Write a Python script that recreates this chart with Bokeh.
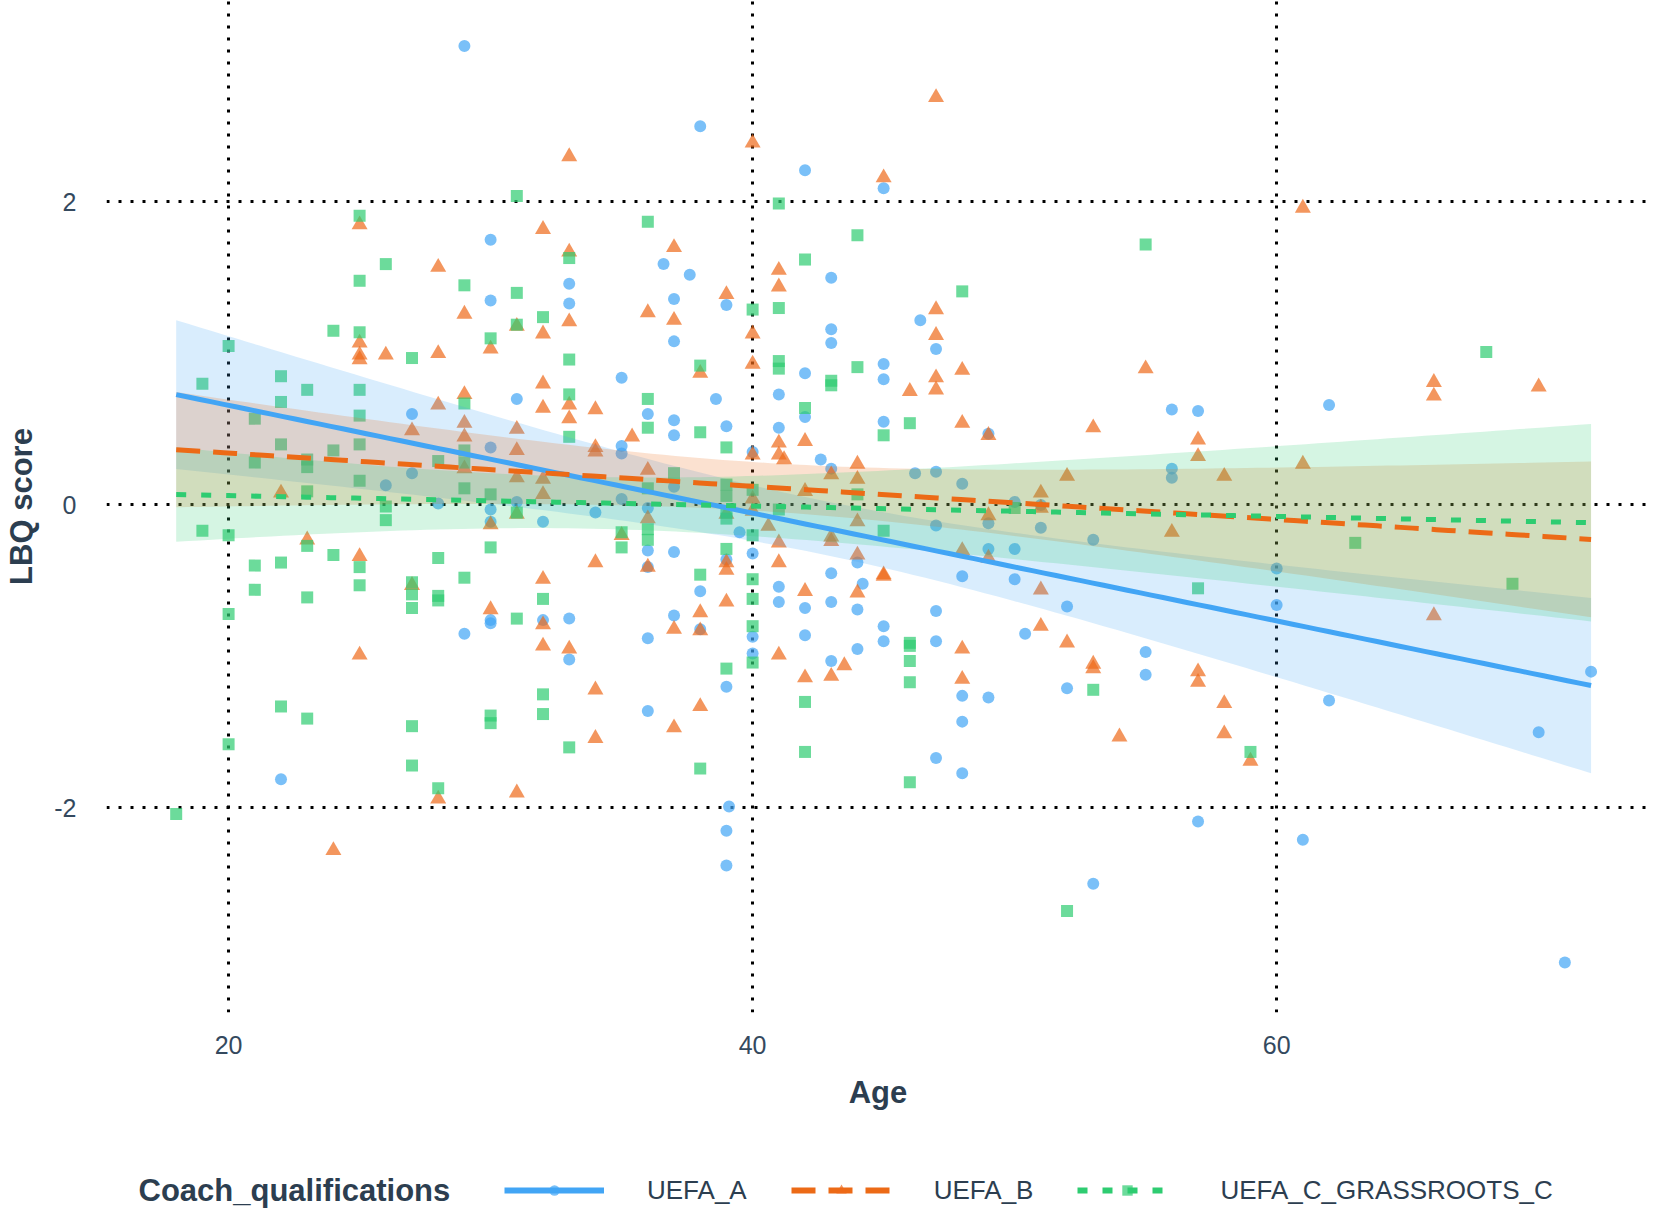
import numpy as np
from bokeh.plotting import figure
from bokeh.layouts import column
from bokeh.models import Range1d, FixedTicker, Legend, LegendItem, Label
from bokeh.embed import file_html
from bokeh.resources import INLINE

# ---------------- data ----------------
group_names = ["UEFA_A", "UEFA_B", "UEFA_C_GRASSROOTS_C"]
legend_title = "Coach_qualifications"

a_age = [29, 30, 30, 27, 30, 27, 26, 28, 30, 30, 30, 30, 29, 22,
         38, 42, 36.6, 37.6, 33, 37, 33, 39, 37, 42, 35, 41, 31, 38.6, 42, 36, 37, 39, 41, 37, 35, 40, 35, 42.6,
         37, 31, 35, 32, 34, 36, 39.5, 36, 37, 40, 39, 36, 41, 38, 41, 42, 37, 32, 33, 38, 40, 42, 36, 33, 40,
         39, 36, 39.1, 39, 39,
         45, 43, 46.4, 43, 43, 47, 45, 45, 56, 45, 49, 43, 46.2, 47, 48, 56, 56,
         50, 51, 49, 47, 51, 53, 50, 49, 44, 43, 48, 50, 44.2, 43, 52, 44, 47, 45, 50.4, 45, 47, 44, 55, 43,
         55, 52, 48, 49, 48, 47, 48, 53,
         62, 57, 60, 60, 72, 62, 70, 57, 61, 71]
a_lbq = [3.03, 1.75, 1.35, 0.60, 0.38, 0.21, 0.13, 0.01, -0.03, -0.11, -0.76, -0.78, -0.85, -1.81,
         2.50, 2.21, 1.59, 1.52, 1.46, 1.36, 1.33, 1.32, 1.08, 0.87, 0.84, 0.73, 0.70, 0.70, 0.58, 0.60, 0.56, 0.52, 0.51, 0.46, 0.39, 0.35, 0.34, 0.30,
         0.12, 0.02, 0.04, -0.11, -0.05, -0.02, -0.18, -0.30, -0.31, -0.32, -0.36, -0.41, -0.54, -0.57, -0.64, -0.68, -0.73, -0.76, -0.75, -0.82, -0.87, -0.86, -0.88, -1.02, -0.98,
         -1.20, -1.36, -1.99, -2.15, -2.38,
         2.09, 1.50, 1.22, 1.16, 1.07, 1.03, 0.93, 0.83, 0.63, 0.55, 0.47, 0.24, 0.21, 0.22, 0.14, 0.24, 0.18,
         0.02, 0.00, -0.12, -0.135, -0.15, -0.23, -0.29, -0.29, -0.38, -0.45, -0.47, -0.49, -0.52, -0.64, -0.67, -0.69, -0.70, -0.80, -0.85, -0.90, -0.90, -0.95, -0.97, -1.03,
         -1.12, -1.21, -1.26, -1.27, -1.43, -1.67, -1.77, -2.50,
         0.66, 0.62, -0.42, -0.66, -1.10, -1.29, -1.50, -2.09, -2.21, -3.02]

b_age = [25, 28, 29, 25, 30, 25, 25, 26, 28, 29, 28, 27, 29, 29, 29, 22, 30, 23, 25, 27, 30, 25, 28, 24,
         40, 33, 32, 37, 33, 41, 41, 39, 36, 33, 37, 31, 32, 40, 40, 38, 32, 33, 32, 34, 33, 31, 35.4, 41, 42,
         34, 34, 31, 40, 41, 41.2, 36, 31, 32,
         32, 40, 42, 31, 36, 39, 40, 40.6, 35, 41, 39, 39, 34, 36, 41, 32, 42, 39, 38, 32, 37, 38, 32, 33, 41,
         42, 34, 38, 37, 34, 31,
         47, 45, 47, 47, 48, 55, 47, 46, 47, 48, 49, 53, 44, 43, 44, 52,
         51, 51, 49, 44, 56, 43, 43, 48, 44, 49, 45, 45, 51, 44, 51, 52, 48, 43.5, 53, 53, 43, 48, 54,
         61, 66, 66, 70, 57, 57, 58, 61, 66, 57, 57, 58, 58, 59]
b_lbq = [1.85, 1.57, 1.26, 1.07, 1.03, 0.99, 0.96, 0.99, 1.00, 0.73, 0.66, 0.49, 0.54, 0.45, 0.24, 0.08, -0.13, -0.23, -0.34, -0.53, -0.69, -0.99, -1.94, -2.28,
         2.39, 2.30, 1.82, 1.70, 1.67, 1.55, 1.44, 1.39, 1.27, 1.21, 1.22, 1.18, 1.13, 1.13, 0.93, 0.87, 0.80, 0.66, 0.64, 0.63, 0.57, 0.50, 0.45, 0.41, 0.42,
         0.38, 0.35, 0.36, 0.33, 0.33, 0.30, 0.23, 0.18, 0.17,
         0.07, 0.04, 0.09, -0.06, -0.09, -0.06, -0.04, -0.14, -0.20, -0.25, -0.38, -0.43, -0.38, -0.41, -0.38, -0.49, -0.57, -0.64, -0.71, -0.79, -0.82, -0.83, -0.93, -0.95, -0.99,
         -1.14, -1.22, -1.33, -1.47, -1.54, -1.90,
         2.69, 2.16, 1.29, 1.12, 0.89, 0.90, 0.84, 0.75, 0.76, 0.54, 0.46, 0.51, 0.27, 0.20, 0.17, 0.19,
         0.08, -0.02, -0.07, -0.11, -0.18, -0.21, -0.24, -0.30, -0.33, -0.35, -0.46, -0.47, -0.56, -0.58, -0.80, -0.91, -0.95, -1.06, -1.05, -1.08, -1.13, -1.15, -1.53,
         1.96, 0.81, 0.72, 0.78, 0.43, 0.32, 0.19, 0.27, -0.73, -1.10, -1.17, -1.31, -1.51, -1.69]

c_age = [25, 26, 25, 29, 24, 25, 30, 27, 20, 19, 22, 23, 25, 22, 29, 21, 25, 22, 24, 25, 29, 21, 23, 23, 28, 29, 25, 23, 29, 30,
         26, 26, 19, 20, 23, 24, 25, 21, 22, 30, 28, 29, 25, 21, 23, 27, 27, 27, 28, 28, 20, 22, 23, 27, 30, 30, 20, 27, 28, 18,
         31, 41, 36, 33, 42, 31, 40, 41, 32, 31, 33, 41, 41, 38, 33, 36, 42, 36, 38, 33, 39, 37,
         36, 39, 39, 40, 31, 36, 36, 39, 39, 40, 41, 35, 35, 39, 38, 40, 32, 40, 31, 40, 40, 39, 32, 42, 32, 33, 42, 38,
         44, 55, 48, 44, 43, 43, 46, 45, 44, 50, 45, 46, 46, 46, 46, 53, 46, 52, 68, 63, 69, 57, 59]
c_lbq = [1.91, 1.59, 1.48, 1.45, 1.15, 1.14, 1.10, 0.97, 1.05, 0.80, 0.85, 0.76, 0.76, 0.68, 0.67, 0.57, 0.59, 0.40, 0.36, 0.40, 0.36, 0.28, 0.30, 0.25, 0.29, 0.28, 0.16, 0.09, 0.11, 0.07,
         -0.01, -0.10, -0.17, -0.20, -0.27, -0.33, -0.41, -0.40, -0.38, -0.28, -0.35, -0.48, -0.53, -0.56, -0.61, -0.51, -0.59, -0.68, -0.60, -0.63, -0.72, -1.33, -1.41, -1.46, -1.39, -1.44, -1.58, -1.72, -1.87, -2.04,
         2.04, 1.99, 1.87, 1.63, 1.62, 1.40, 1.29, 1.30, 1.24, 1.19, 0.96, 0.95, 0.90, 0.92, 0.73, 0.70, 0.64, 0.51, 0.48, 0.45, 0.38, 0.21,
         0.11, 0.135, 0.06, 0.10, -0.05, -0.16, -0.23, -0.05, -0.09, -0.20, -0.03, -0.18, -0.28, -0.29, -0.46, -0.49, -0.62, -0.62, -0.75, -0.80, -1.04, -1.08, -1.25, -1.30, -1.38, -1.60, -1.63, -1.74,
         1.78, 1.72, 1.41, 0.91, 0.82, 0.79, 0.54, 0.46, 0.07, -0.02, -0.17, -0.91, -0.93, -1.03, -1.17, -1.22, -1.83, -2.68, 1.01, -0.25, -0.52, -0.55, -1.63]

x_ticks = [20, 40, 60]
y_ticks = [-2, 0, 2]
y_tick_labels = {-2: "-2", 0: "0", 2: "2"}

# ---------------- styles ----------------
FONT = "Liberation Sans"
TEXT = "#2C3E50"
line_colors = ["#42A5F5", "#EC6A16", "#2ECC71"]
point_colors = ["#42A5F5", "#EE6A1A", "#2ECC71"]
markers = ["circle", "triangle", "square"]
marker_sizes = [12, 16, 12]
dashes = ["solid", "24 13", "10 15"]

W = 1649
LEFT = 106
H1 = 1112
H2 = 102

p = figure(width=W, height=H1, output_backend="svg", toolbar_location=None,
           x_range=Range1d(15.34, 74.23), y_range=Range1d(-3.35, 3.33),
           min_border_left=LEFT, min_border_right=0, min_border_top=0, min_border_bottom=98)
p.outline_line_color = None
p.background_fill_color = "white"
p.border_fill_color = "white"

for ax in (p.xaxis[0], p.yaxis[0]):
    ax.axis_line_color = None
    ax.major_tick_line_color = None
    ax.minor_tick_line_color = None
    ax.major_label_text_font = FONT
    ax.major_label_text_font_size = "25px"
    ax.major_label_text_color = "#34495E"
    ax.axis_label_text_font = FONT
    ax.axis_label_text_font_size = "31px"
    ax.axis_label_text_font_style = "bold"
    ax.axis_label_text_color = TEXT

p.xaxis.ticker = FixedTicker(ticks=x_ticks)
p.yaxis.ticker = FixedTicker(ticks=y_ticks)
p.yaxis.major_label_overrides = y_tick_labels
p.xaxis.axis_label = "Age"
p.yaxis.axis_label = "LBQ score"
p.xaxis.major_label_standoff = 17
p.xaxis.axis_label_standoff = 18
p.yaxis.major_label_standoff = 24
p.yaxis.axis_label_standoff = 12

for g in (p.xgrid[0], p.ygrid[0]):
    g.grid_line_color = "black"
    g.grid_line_width = 3
    g.grid_line_dash = "3 9"
    g.minor_grid_line_color = None

data = [(a_age, a_lbq), (b_age, b_lbq), (c_age, c_lbq)]
all_age = np.array(a_age + b_age + c_age, dtype=float)
grid_x = np.linspace(all_age.min(), all_age.max(), 120)

def lm_fit(xs, ys, gx):
    x = np.asarray(xs, dtype=float)
    y = np.asarray(ys, dtype=float)
    n = len(x)
    slope, intercept = np.polyfit(x, y, 1)
    resid = y - (intercept + slope * x)
    s = np.sqrt(np.sum(resid ** 2) / (n - 2))
    xm = x.mean()
    sxx = np.sum((x - xm) ** 2)
    fit = intercept + slope * gx
    se = s * np.sqrt(1.0 / n + (gx - xm) ** 2 / sxx)
    t = 1.98
    return fit, fit - t * se, fit + t * se

for i, (xs, ys) in enumerate(data):
    p.scatter(xs, ys, marker=markers[i], size=marker_sizes[i],
              fill_color=point_colors[i], line_color=None, fill_alpha=0.7)

fits = [lm_fit(xs, ys, grid_x) for xs, ys in data]
for i, (fit, lo, hi) in enumerate(fits):
    p.varea(x=grid_x, y1=lo, y2=hi, fill_color=line_colors[i], fill_alpha=0.2)

for i, (fit, lo, hi) in enumerate(fits):
    p.line(grid_x, fit, line_color=line_colors[i], line_width=5, line_dash=dashes[i])

# ---------------- legend strip below the chart ----------------
# pixel-matched ranges: the legend key renderers reuse the group data, which
# falls outside this strip's frame, so only their legend keys are visible
p2 = figure(width=W, height=H2, output_backend="svg", toolbar_location=None,
            x_range=Range1d(LEFT, W), y_range=Range1d(0, H2),
            x_axis_location=None, y_axis_location=None,
            min_border_left=LEFT, min_border_right=0, min_border_top=0, min_border_bottom=0)
p2.outline_line_color = None
p2.xgrid.visible = False
p2.ygrid.visible = False

items = []
for i, (xs, ys) in enumerate(data):
    lr = p2.line(x=xs, y=ys, line_color=line_colors[i], line_width=6, line_dash=dashes[i])
    sr = p2.scatter(x=xs, y=ys, marker=markers[i], size=marker_sizes[i],
                    fill_color=point_colors[i], line_color=None, fill_alpha=0.7)
    items.append(LegendItem(label=group_names[i], renderers=[lr, sr]))

legend = Legend(items=items, orientation="horizontal", location=(398, 8),
                border_line_color=None, background_fill_alpha=0,
                label_text_font=FONT, label_text_font_size="26px", label_text_color=TEXT,
                glyph_width=100, glyph_height=26, label_height=32,
                label_standoff=43, spacing=44, padding=0, margin=0)
p2.add_layout(legend)

p2.add_layout(Label(x=138, y=24, text=legend_title,
                    text_font=FONT, text_font_size="31px", text_font_style="bold",
                    text_color=TEXT, text_align="left", text_baseline="middle"))

open("out.html", "w").write(file_html(column(p, p2, spacing=0), INLINE))
